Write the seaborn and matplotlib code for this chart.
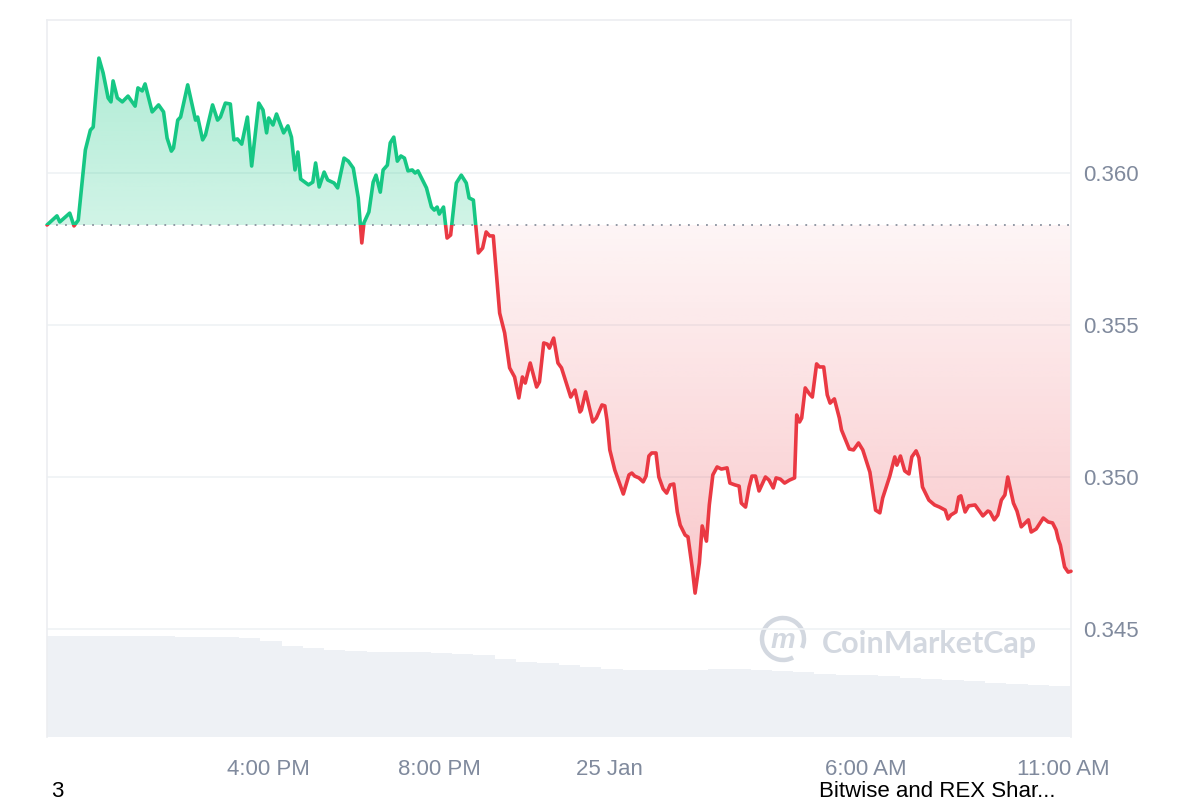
#Libraries
import numpy as np
import pandas as pd
import seaborn as sns
import matplotlib.pyplot as plt
import matplotlib.colors as mcolors
from matplotlib.path import Path
from matplotlib.patches import Rectangle, Arc
from matplotlib.transforms import ScaledTranslation
import matplotlib.dates as mdates

#Inputs: price samples (minutes after 24 Jan 10:48), 24h volume every 30 min
start = pd.Timestamp('2025-01-24 10:48')
minutes = [0, 14, 18, 32, 38, 44, 54, 61, 65, 73,
           79, 86, 90, 93, 99, 106, 114, 124, 128, 134,
           138, 148, 157, 164, 169, 175, 178, 184, 188, 198,
           209, 212, 219, 223, 233, 240, 244, 251, 258, 263,
           268, 274, 282, 288, 298, 304, 309, 312, 318, 323,
           333, 339, 344, 349, 353, 357, 368, 374, 378, 383,
           390, 395, 404, 409,
           418, 424, 431, 438, 443, 446, 453, 459, 463, 469,
           473, 479, 483, 488, 493, 498, 503, 508, 514, 518,
           522, 534, 541, 545, 549, 552, 558, 563, 568, 576,
           583, 590, 594, 600, 603, 607, 613, 618, 623, 628,
           637, 644, 651, 658, 664, 669, 673, 680, 689, 693,
           699, 704, 707, 713, 719, 724, 737, 743, 750, 752,
           758, 768, 773, 781, 785,
           788, 792, 799, 811, 819, 823, 827, 833, 839, 843,
           847, 851, 857, 861, 867, 872, 877, 882, 887, 891,
           898, 902, 908, 912, 918, 922, 928, 932, 937, 943,
           949, 957, 961, 968, 974, 977, 983, 988, 992, 997,
           1002, 1011, 1016, 1022, 1026, 1032, 1038, 1045, 1052, 1055,
           1059, 1062, 1067, 1073, 1077, 1083, 1087, 1093, 1098, 1102,
           1108, 1115, 1118, 1129, 1135, 1142, 1148, 1158, 1166, 1172,
           1176, 1186, 1193, 1196, 1201, 1207, 1213, 1217, 1223, 1227,
           1232, 1241, 1249, 1256, 1264, 1268, 1272, 1279, 1283, 1286,
           1292, 1297, 1306, 1310, 1317, 1324, 1327, 1333, 1338, 1343,
           1348, 1352, 1360, 1365, 1371, 1381, 1385, 1392, 1402, 1409,
           1415, 1420, 1423, 1426, 1432, 1437, 1441]
price = [0.35829, 0.35859, 0.35839, 0.35868, 0.35826, 0.35845, 0.36076, 0.36141, 0.36151, 0.36378,
         0.36329, 0.36247, 0.36234, 0.36303, 0.36247, 0.36234, 0.36253, 0.36220, 0.36280, 0.36270,
         0.36293, 0.36201, 0.36224, 0.36201, 0.36115, 0.36072, 0.36082, 0.36174, 0.36184, 0.36290,
         0.36174, 0.36184, 0.36109, 0.36125, 0.36224, 0.36174, 0.36184, 0.36230, 0.36227, 0.36109,
         0.36112, 0.36095, 0.36184, 0.36023, 0.36230, 0.36207, 0.36132, 0.36181, 0.36158, 0.36194,
         0.36132, 0.36155, 0.36118, 0.36010, 0.36069, 0.35980, 0.35961, 0.35970, 0.36033, 0.35954,
         0.36003, 0.35977, 0.35967, 0.35951,
         0.36049, 0.36039, 0.36016, 0.35918, 0.35770, 0.35836, 0.35872, 0.35970, 0.35993, 0.35937,
         0.36010, 0.36026, 0.36099, 0.36118, 0.36039, 0.36056, 0.36049, 0.36007, 0.36010, 0.36000,
         0.36007, 0.35951, 0.35888, 0.35878, 0.35888, 0.35865, 0.35888, 0.35786, 0.35796, 0.35967,
         0.35993, 0.35967, 0.35918, 0.35911, 0.35836, 0.35737, 0.35753, 0.35806, 0.35793, 0.35793,
         0.35539, 0.35474, 0.35359, 0.35329, 0.35260, 0.35329, 0.35309, 0.35375, 0.35296, 0.35313,
         0.35441, 0.35437, 0.35424, 0.35457, 0.35375, 0.35359, 0.35263, 0.35286, 0.35214, 0.35220,
         0.35280, 0.35181, 0.35194, 0.35237, 0.35234,
         0.35187, 0.35089, 0.35023, 0.34944, 0.35007, 0.35013, 0.35003, 0.34997, 0.34984, 0.35003,
         0.35069, 0.35079, 0.35079, 0.35000, 0.34961, 0.34947, 0.34974, 0.34977, 0.34885, 0.34842,
         0.34809, 0.34803, 0.34701, 0.34618, 0.34717, 0.34839, 0.34789, 0.34908, 0.35007, 0.35033,
         0.35026, 0.35030, 0.34980, 0.34974, 0.34970, 0.34914, 0.34901, 0.34967, 0.35003, 0.35003,
         0.34954, 0.35000, 0.34990, 0.34964, 0.34997, 0.34993, 0.34980, 0.34990, 0.34997, 0.35204,
         0.35181, 0.35194, 0.35293, 0.35273, 0.35263, 0.35372, 0.35362, 0.35362, 0.35270, 0.35243,
         0.35257, 0.35194, 0.35155, 0.35092, 0.35089, 0.35112, 0.35089, 0.35016, 0.34891, 0.34882,
         0.34931, 0.35003, 0.35066, 0.35039, 0.35069, 0.35020, 0.35010, 0.35066, 0.35086, 0.35063,
         0.34967, 0.34924, 0.34908, 0.34901, 0.34891, 0.34862, 0.34875, 0.34885, 0.34934, 0.34938,
         0.34885, 0.34905, 0.34908, 0.34895, 0.34872, 0.34888, 0.34885, 0.34859, 0.34875, 0.34924,
         0.34941, 0.35000, 0.34914, 0.34888, 0.34836, 0.34859, 0.34819, 0.34829, 0.34865, 0.34852,
         0.34849, 0.34826, 0.34796, 0.34776, 0.34704, 0.34687, 0.34690]
vol_minutes = list(range(0, 1440, 30))
volume = [252.5, 252.5, 252.5, 252.5, 252.5, 252.5, 250, 250, 250, 247.5,
          240, 227.5, 222.5, 217.5, 215, 212.5, 212.5, 212.5, 210, 207.5,
          205, 195, 187.5, 185, 180, 175, 170, 167.5, 167.5, 167.5,
          167.5, 170, 170, 167.5, 165, 162.5, 157.5, 155, 155, 152.5,
          147.5, 145, 142.5, 140, 135, 132.5, 130, 127.5]
price_ticks = [0.345, 0.350, 0.355, 0.360]
tick_times = ['2025-01-24 16:00', '2025-01-24 20:00', '2025-01-25 00:00',
              '2025-01-25 06:00', '2025-01-25 10:49']
tick_labels = ['4:00 PM', '8:00 PM', '25 Jan', '6:00 AM', '11:00 AM']

GREEN = '#16c784'
RED = '#ea3943'
GREY = '#808a9d'
LINE = '#eceef1'

df = pd.DataFrame({'time': start + pd.to_timedelta(minutes, unit='min'), 'price': price})
df['t'] = mdates.date2num(df['time'])
base = price[0]
vol_t = mdates.date2num(start + pd.to_timedelta(vol_minutes, unit='min'))

sns.set_theme(style='white')
plt.rcParams['font.family'] = ['Liberation Sans', 'DejaVu Sans']

fig = plt.figure(figsize=(12, 8), dpi=100)
ax = fig.add_axes([47/1200, 63/800, 1024/1200, 717/800])
axv = ax.twinx()
ax.set_zorder(axv.get_zorder() + 1)
ax.patch.set_visible(False)

#Volume (background)
axv.bar(vol_t, volume, width=30/1440, align='edge', color='#eef1f5', linewidth=0)
axv.set_ylim(0, 1792.5)
axv.set_yticks([])
for s in axv.spines.values():
    s.set_visible(False)

xmin, xmax = df['t'].iloc[0], df['t'].iloc[-1]
ymin, ymax = 0.341447, 0.365033


def gradient_area(above, color, a_near, a_far, far):
    y = df['price'].values
    where = y >= base if above else y <= base
    coll = ax.fill_between(df['t'].values, y, base, where=where, interpolate=True,
                           color='none', linewidth=0)
    path = Path.make_compound_path(*coll.get_paths())
    img = np.zeros((256, 2, 4))
    img[..., :3] = mcolors.to_rgb(color)
    alpha = np.linspace(a_near, a_far, 256)
    if not above:
        alpha = alpha[::-1]
    img[..., 3] = alpha[:, None]
    lo, hi = (base, far) if above else (far, base)
    im = ax.imshow(img, aspect='auto', extent=[xmin, xmax, lo, hi], origin='lower', zorder=1)
    im.set_clip_path(path, ax.transData)


gradient_area(True, GREEN, 0.20, 0.34, max(price))
gradient_area(False, RED, 0.05, 0.28, min(price))

#Price line, green above the open, red below
sns.lineplot(data=df, x='t', y='price', color=GREEN, linewidth=2.6, ax=ax, zorder=3)
ax.lines[-1].set_clip_path(Rectangle((xmin - 1, base), 3, 1, transform=ax.transData))
sns.lineplot(data=df, x='t', y='price', color=RED, linewidth=2.6, ax=ax, zorder=3)
ax.lines[-1].set_clip_path(Rectangle((xmin - 1, base - 1), 3, 1, transform=ax.transData))
ax.axhline(base, color='#8a919e', linestyle=(0, (1, 4)), linewidth=1.3, zorder=2)

for p in price_ticks:
    ax.axhline(p, color='#eff2f5', linewidth=1.2, zorder=0)

ax.set_xlim(xmin, xmax)
ax.set_ylim(ymin, ymax)
ax.yaxis.tick_right()
ax.set_yticks(price_ticks)
ax.set_yticklabels(['%.3f' % p for p in price_ticks])
ax.set_xticks(mdates.date2num(pd.to_datetime(tick_times)))
ax.set_xticklabels(tick_labels)
ax.tick_params(axis='x', length=0, pad=16, labelsize=16, labelcolor=GREY)
ax.tick_params(axis='y', length=0, pad=8.5, labelsize=16, labelcolor=GREY)
ax.set_xlabel('')
ax.set_ylabel('')
ax.grid(False)
for name, s in ax.spines.items():
    s.set_color(LINE)
    s.set_linewidth(1.2)
ax.spines['bottom'].set_visible(False)
lab = ax.get_xticklabels()[-1]
lab.set_transform(lab.get_transform() + ScaledTranslation(-0.08, 0, fig.dpi_scale_trans))

#Watermark
wm = '#d3d8e0'
fig.add_artist(Arc((783/1200, 1 - 639/800), 42/1200, 42/800, theta1=-35, theta2=290,
                   color=wm, linewidth=3.2, transform=fig.transFigure))
fig.text(783/1200, 1 - 641/800, 'm', color=wm, fontsize=20, fontweight='bold',
         style='italic', ha='center', va='center')
fig.text(822/1200, 1 - 653/800, 'CoinMarketCap', color=wm, fontsize=22,
         fontweight='bold', family=['Lato', 'DejaVu Sans'], va='baseline')

#Page text below the chart
fig.text(51/1200, 1 - 797/800, '3', color='black', fontsize=16, va='baseline')
fig.text(819/1200, 1 - 797/800, 'Bitwise and REX Shar...', color='black', fontsize=16,
         va='baseline')

fig.savefig('out.png', dpi=100)
